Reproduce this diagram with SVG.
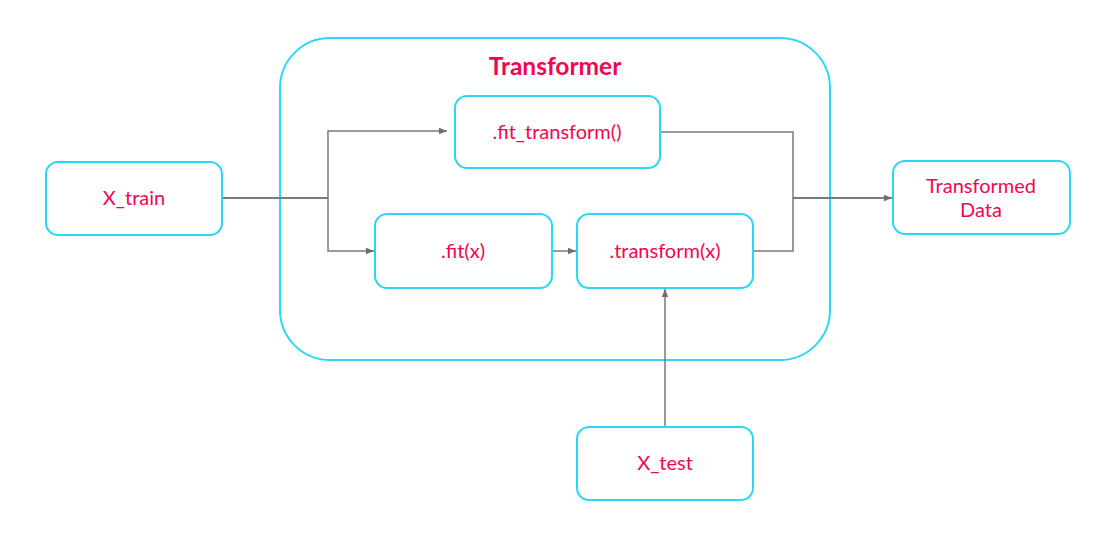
<svg xmlns="http://www.w3.org/2000/svg" width="1109" height="551" viewBox="0 0 1109 551">
<style>
.box{fill:#fff;stroke:#29d8f6;stroke-width:2}
.lbl{font-family:Lato,"Liberation Sans",sans-serif;font-size:20px;fill:#f5054f;text-anchor:middle}
.title{font-family:Lato,"Liberation Sans",sans-serif;font-size:24.5px;font-weight:bold;fill:#f5054f;text-anchor:middle}
.c{fill:none;stroke:#7a7a7a;stroke-width:1.5}
</style>
<defs>
<marker id="ah" viewBox="0 0 10 10" refX="10" refY="5" markerWidth="8" markerHeight="8" markerUnits="userSpaceOnUse" orient="auto">
<path d="M0,1 L10,5 L0,9 Z" fill="#6e6e6e"/>
</marker>
</defs>
<rect width="1109" height="551" fill="#fff"/>
<g id="transformer">
<rect x="280" y="38" width="550" height="322" rx="50" class="box"/>
<text x="555" y="75" class="title">Transformer</text>
</g>
<g id="connectors">
<path class="c" d="M216,198 H328" style="stroke-width:2"/>
<path class="c" d="M328,198 V131 H447" marker-end="url(#ah)"/>
<path class="c" d="M328,198 V251 H374" marker-end="url(#ah)"/>
<path class="c" d="M552,251 H576" marker-end="url(#ah)"/>
<path class="c" d="M753,251 H793 V198"/>
<path class="c" d="M660,132 H793 V198"/>
<path class="c" d="M793,198 H892" marker-end="url(#ah)" style="stroke-width:2"/>
<path class="c" d="M665,427 V289" marker-end="url(#ah)"/>
</g>
<g id="x_train">
<rect x="46" y="162" width="176" height="73" rx="12" class="box"/>
<text x="134" y="205" class="lbl">X_train</text>
</g>
<g id="fit_transform">
<rect x="455" y="96" width="205" height="72" rx="12" class="box"/>
<text x="557" y="139" class="lbl">.fit_transform()</text>
</g>
<g id="fit">
<rect x="375" y="214" width="177" height="74" rx="12" class="box"/>
<text x="463" y="258" class="lbl">.fit(x)</text>
</g>
<g id="transform">
<rect x="577" y="214" width="176" height="74" rx="12" class="box"/>
<text x="665" y="258" class="lbl">.transform(x)</text>
</g>
<g id="transformed_data">
<rect x="893" y="161" width="177" height="73" rx="12" class="box"/>
<text x="981" y="193" class="lbl">Transformed</text>
<text x="981" y="217" class="lbl">Data</text>
</g>
<g id="x_test">
<rect x="577" y="427" width="176" height="73" rx="12" class="box"/>
<text x="665" y="470" class="lbl">X_test</text>
</g>
</svg>
